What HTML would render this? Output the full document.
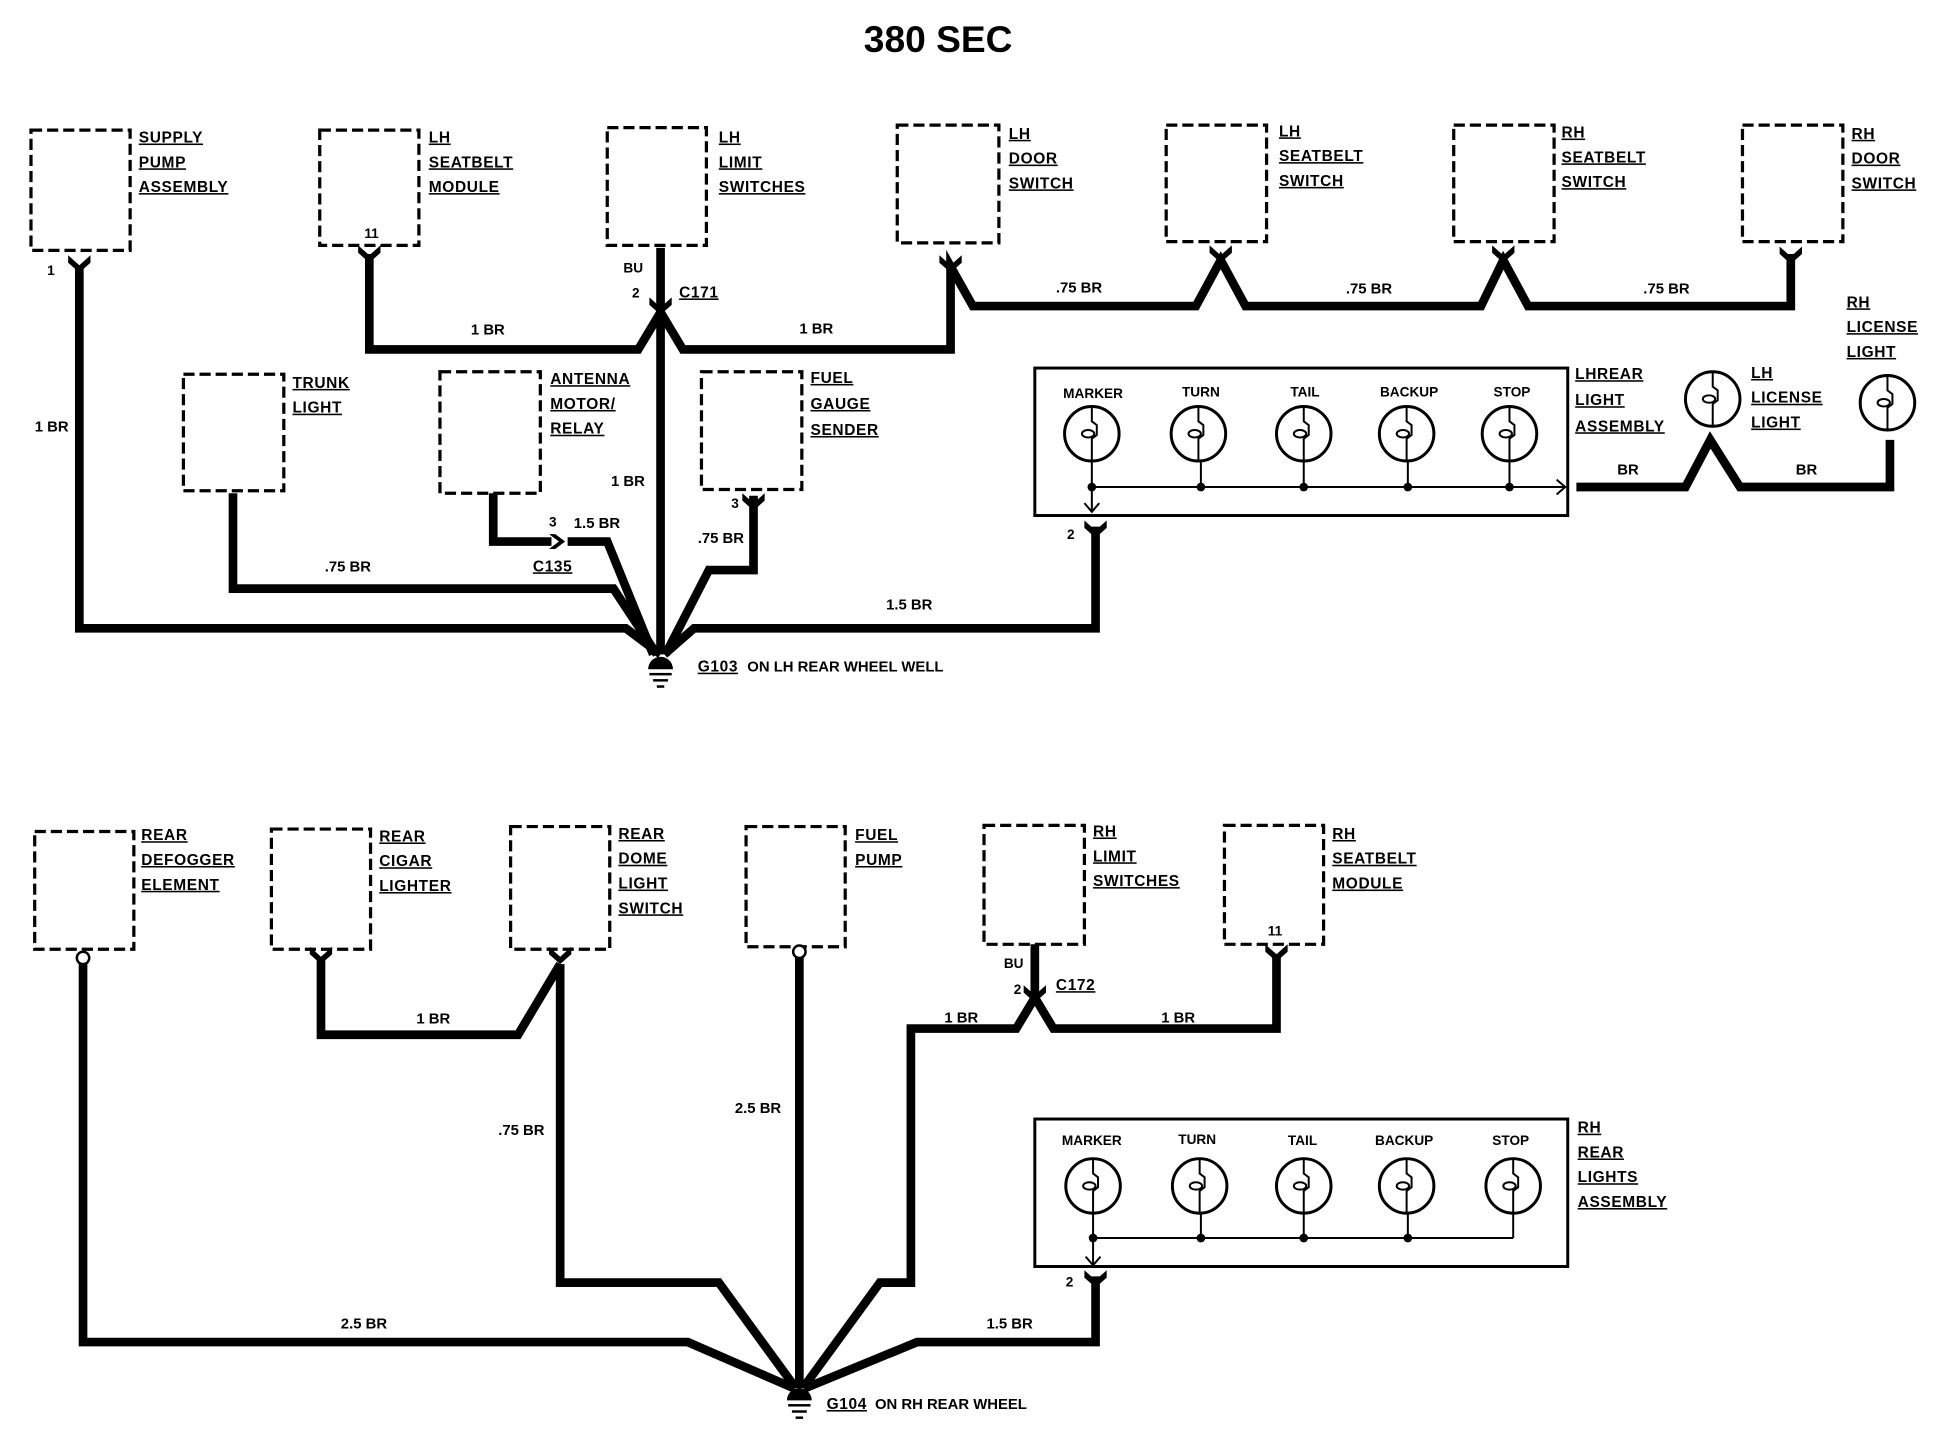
<!DOCTYPE html>
<html><head><meta charset="utf-8"><style>
html,body{margin:0;padding:0;background:#fff}
svg{display:block}
text{font-family:"Liberation Sans",sans-serif;font-weight:bold;fill:#000}
.l{font-size:12.5px;text-decoration:underline;letter-spacing:0.5px}
.w{font-size:12px}
.s{font-size:11px}
.box{fill:none;stroke:#000;stroke-width:2.6;stroke-dasharray:9 4}
.wire{fill:none;stroke:#000;stroke-width:7;stroke-linejoin:miter}
.thin{fill:none;stroke:#000;stroke-width:1.6}
.lamp{fill:none;stroke:#000;stroke-width:2.4}
</style></head><body>
<svg width="1942" height="1440" viewBox="0 0 1567 1162" preserveAspectRatio="none" xmlns="http://www.w3.org/2000/svg">
<text x="757" y="42" font-size="30" text-anchor="middle">380 SEC</text>

<rect class="box" x="25" y="105" width="80" height="97"/>
<text class="l" x="112" y="115">SUPPLY</text><text class="l" x="112" y="135">PUMP</text><text class="l" x="112" y="155">ASSEMBLY</text>
<rect class="box" x="258" y="105" width="80" height="93"/>
<text class="l" x="346" y="115">LH</text><text class="l" x="346" y="135">SEATBELT</text><text class="l" x="346" y="155">MODULE</text>
<text class="s" x="294" y="192">11</text>
<rect class="box" x="490" y="103" width="80" height="95"/>
<text class="l" x="580" y="115">LH</text><text class="l" x="580" y="135">LIMIT</text><text class="l" x="580" y="155">SWITCHES</text>
<rect class="box" x="724" y="101" width="82" height="95"/>
<text class="l" x="814" y="112">LH</text><text class="l" x="814" y="132">DOOR</text><text class="l" x="814" y="152">SWITCH</text>
<rect class="box" x="941" y="101" width="81" height="94"/>
<text class="l" x="1032" y="110">LH</text><text class="l" x="1032" y="130">SEATBELT</text><text class="l" x="1032" y="150">SWITCH</text>
<rect class="box" x="1173" y="101" width="81" height="94"/>
<text class="l" x="1260" y="111">RH</text><text class="l" x="1260" y="131">SEATBELT</text><text class="l" x="1260" y="151">SWITCH</text>
<rect class="box" x="1406" y="101" width="81" height="94"/>
<text class="l" x="1494" y="112">RH</text><text class="l" x="1494" y="132">DOOR</text><text class="l" x="1494" y="152">SWITCH</text>

<rect class="box" x="148" y="302" width="81" height="94"/>
<text class="l" x="236" y="313">TRUNK</text><text class="l" x="236" y="333">LIGHT</text>
<rect class="box" x="355" y="300" width="81" height="98"/>
<text class="l" x="444" y="310">ANTENNA</text><text class="l" x="444" y="330">MOTOR/</text><text class="l" x="444" y="350">RELAY</text>
<rect class="box" x="566" y="300" width="81" height="95"/>
<text class="l" x="654" y="309">FUEL</text><text class="l" x="654" y="330">GAUGE</text><text class="l" x="654" y="351">SENDER</text>

<path class="wire" d="M64 215 V507 H505 L533 528"/>
<path class="wire" d="M298 205 V282 H515 L533 252"/>
<path class="wire" d="M533 252 L551 282 H767 V215 L785 247 H965 L985 210 L1005 247 H1195 L1213 210 L1233 247 H1445 V205"/>
<path class="wire" d="M533 200 V528"/>
<path class="wire" d="M188 398 V475 H495 L530 528"/>
<path class="wire" d="M398 398 V437 H445"/>
<path class="wire" d="M458 437 H490 L527 528"/>
<path class="wire" d="M608 400 V460 H572 L537 528"/>
<path class="wire" d="M884 425 V507 H560 L536 528"/>
<g fill="#000">
<path d="M55 206 L64 214 L73 206 L73 212 L64 220 L55 212Z"/>
<path d="M289 198 L298 206 L307 198 L307 204 L298 212 L289 204Z"/>
<path d="M524 240 L533 248 L542 240 L542 246 L533 254 L524 246Z"/>
<path d="M758 206 L767 214 L776 206 L776 212 L767 220 L758 212Z"/>
<path d="M976 198 L985 206 L994 198 L994 204 L985 212 L976 204Z"/>
<path d="M1204 198 L1213 206 L1222 198 L1222 204 L1213 212 L1204 204Z"/>
<path d="M1436 199 L1445 207 L1454 199 L1454 205 L1445 213 L1436 205Z"/>
<path d="M599 398 L608 406 L617 398 L617 404 L608 412 L599 404Z"/>
<path d="M875 420 L884 428 L893 420 L893 426 L884 434 L875 426Z"/>
<path d="M443 431 L451 437 L443 443 L448 443 L456 437 L448 431Z"/>
</g>
<text class="s" x="38" y="222">1</text>
<text class="s" x="503" y="220">BU</text>
<text class="s" x="510" y="240">2</text>
<text class="l" x="548" y="240">C171</text>
<text class="w" x="28" y="348">1 BR</text>
<text class="w" x="380" y="270">1 BR</text>
<text class="w" x="645" y="269">1 BR</text>
<text class="w" x="852" y="236">.75 BR</text>
<text class="w" x="1086" y="237">.75 BR</text>
<text class="w" x="1326" y="237">.75 BR</text>
<text class="w" x="493" y="392">1 BR</text>
<text class="w" x="262" y="461">.75 BR</text>
<text class="s" x="443" y="425">3</text>
<text class="w" x="463" y="426">1.5 BR</text>
<text class="l" x="430" y="461">C135</text>
<text class="s" x="590" y="410">3</text>
<text class="w" x="563" y="438">.75 BR</text>
<text class="w" x="715" y="492">1.5 BR</text>
<text class="s" x="861" y="435">2</text>
<g fill="#000"><path d="M523 540 A10 10 0 0 1 543 540 Z"/><rect x="524" y="543" width="18" height="2"/><rect x="527" y="548" width="12" height="2"/><rect x="530" y="553" width="6" height="2"/></g>
<text class="l" x="563" y="542">G103</text><text class="w" x="603" y="542">ON LH REAR WHEEL WELL</text>

<rect x="835" y="297" width="430" height="119" fill="none" stroke="#000" stroke-width="2.4"/>
<g class="s" text-anchor="middle">
<text x="882" y="321">MARKER</text><text x="969" y="320">TURN</text><text x="1053" y="320">TAIL</text><text x="1137" y="320">BACKUP</text><text x="1220" y="320">STOP</text>
</g>
<path class="thin" d="M881 372 V412 M875 406 L881 413 L887 406 M881 393 H1262 M1256 387 L1263 393 L1256 399 M969 372 V393 M1052 372 V393 M1136 372 V393 M1218 372 V393"/>
<g fill="#000"><circle cx="881" cy="393" r="3.5"/><circle cx="969" cy="393" r="3.5"/><circle cx="1052" cy="393" r="3.5"/><circle cx="1136" cy="393" r="3.5"/><circle cx="1218" cy="393" r="3.5"/></g>
<g class="lamp">
<circle cx="881" cy="350" r="22"/><circle cx="967" cy="350" r="22"/><circle cx="1052" cy="350" r="22"/><circle cx="1135" cy="350" r="22"/><circle cx="1218" cy="350" r="22"/>
<circle cx="1382" cy="322" r="22"/><circle cx="1523" cy="325" r="22"/>
</g>
<g class="thin">
<path d="M881 328 V340 l4 3 v8 l-4 3 V372"/><ellipse cx="878" cy="350" rx="5" ry="3"/>
<path d="M967 328 V340 l4 3 v8 l-4 3 V372"/><ellipse cx="964" cy="350" rx="5" ry="3"/>
<path d="M1052 328 V340 l4 3 v8 l-4 3 V372"/><ellipse cx="1049" cy="350" rx="5" ry="3"/>
<path d="M1135 328 V340 l4 3 v8 l-4 3 V372"/><ellipse cx="1132" cy="350" rx="5" ry="3"/>
<path d="M1218 328 V340 l4 3 v8 l-4 3 V372"/><ellipse cx="1215" cy="350" rx="5" ry="3"/>
<path d="M1382 300 V312 l4 3 v8 l-4 3 V344"/><ellipse cx="1379" cy="322" rx="5" ry="3"/>
<path d="M1523 303 V315 l4 3 v8 l-4 3 V347"/><ellipse cx="1520" cy="325" rx="5" ry="3"/>
</g>
<path class="wire" d="M1272 393 H1360 L1380 355 L1404 393 H1525 V355"/>
<text class="l" x="1271" y="306">LHREAR</text><text class="l" x="1271" y="327">LIGHT</text><text class="l" x="1271" y="348">ASSEMBLY</text>
<text class="l" x="1413" y="305">LH</text><text class="l" x="1413" y="325">LICENSE</text><text class="l" x="1413" y="345">LIGHT</text>
<text class="l" x="1490" y="248">RH</text><text class="l" x="1490" y="268">LICENSE</text><text class="l" x="1490" y="288">LIGHT</text>
<text class="w" x="1305" y="383">BR</text><text class="w" x="1449" y="383">BR</text>

<rect class="box" x="28" y="671" width="80" height="95"/>
<text class="l" x="114" y="678">REAR</text><text class="l" x="114" y="698">DEFOGGER</text><text class="l" x="114" y="718">ELEMENT</text>
<rect class="box" x="219" y="669" width="80" height="97"/>
<text class="l" x="306" y="679">REAR</text><text class="l" x="306" y="699">CIGAR</text><text class="l" x="306" y="719">LIGHTER</text>
<rect class="box" x="412" y="667" width="80" height="99"/>
<text class="l" x="499" y="677">REAR</text><text class="l" x="499" y="697">DOME</text><text class="l" x="499" y="717">LIGHT</text><text class="l" x="499" y="737">SWITCH</text>
<rect class="box" x="602" y="667" width="80" height="97"/>
<text class="l" x="690" y="678">FUEL</text><text class="l" x="690" y="698">PUMP</text>
<rect class="box" x="794" y="666" width="81" height="96"/>
<text class="l" x="882" y="675">RH</text><text class="l" x="882" y="695">LIMIT</text><text class="l" x="882" y="715">SWITCHES</text>
<rect class="box" x="988" y="666" width="80" height="96"/>
<text class="l" x="1075" y="677">RH</text><text class="l" x="1075" y="697">SEATBELT</text><text class="l" x="1075" y="717">MODULE</text>
<text class="s" x="1023" y="755">11</text>

<path class="wire" d="M67 775 V1083 H555 L640 1120"/>
<path class="wire" d="M259 772 V835 H418 L452 778"/>
<path class="wire" d="M452 778 V1035 H580 L642 1120"/>
<path class="wire" d="M645 770 V1120"/>
<path class="wire" d="M835 762 V805 L820 830 H735 V1035 H710 L648 1120"/>
<path class="wire" d="M835 805 L850 830 H1030 V770"/>
<path class="wire" d="M884 1030 V1083 H740 L650 1120"/>
<g fill="#000">
<circle cx="67" cy="773" r="5" fill="#fff" stroke="#000" stroke-width="2"/>
<circle cx="645" cy="768" r="5" fill="#fff" stroke="#000" stroke-width="2"/>
<path d="M250 764 L259 772 L268 764 L268 770 L259 778 L250 770Z"/>
<path d="M443 764 L452 772 L461 764 L461 770 L452 778 L443 770Z"/>
<path d="M1021 762 L1030 770 L1039 762 L1039 768 L1030 776 L1021 768Z"/>
<path d="M826 795 L835 803 L844 795 L844 801 L835 809 L826 801Z"/>
<path d="M875 1025 L884 1033 L893 1025 L893 1031 L884 1039 L875 1031Z"/>
</g>
<text class="s" x="810" y="781">BU</text><text class="s" x="818" y="802">2</text>
<text class="l" x="852" y="799">C172</text>
<text class="w" x="336" y="826">1 BR</text>
<text class="w" x="762" y="825">1 BR</text>
<text class="w" x="937" y="825">1 BR</text>
<text class="w" x="402" y="916">.75 BR</text>
<text class="w" x="593" y="898">2.5 BR</text>
<text class="w" x="275" y="1072">2.5 BR</text>
<text class="w" x="796" y="1072">1.5 BR</text>
<text class="s" x="860" y="1038">2</text>
<g fill="#000"><path d="M635 1130 A10 10 0 0 1 655 1130 Z"/><rect x="636" y="1133" width="18" height="2"/><rect x="639" y="1138" width="12" height="2"/><rect x="642" y="1143" width="6" height="2"/></g>
<text class="l" x="667" y="1137">G104</text><text class="w" x="706" y="1137">ON RH REAR WHEEL</text>

<rect x="835" y="903" width="430" height="119" fill="none" stroke="#000" stroke-width="2.4"/>
<g class="s" text-anchor="middle">
<text x="881" y="924">MARKER</text><text x="966" y="923">TURN</text><text x="1051" y="924">TAIL</text><text x="1133" y="924">BACKUP</text><text x="1219" y="924">STOP</text>
</g>
<path class="thin" d="M882 978 V1020 M876 1014 L882 1021 L888 1014 M882 999 H1221 M969 978 V999 M1052 978 V999 M1136 978 V999 M1221 978 V999"/>
<g fill="#000"><circle cx="882" cy="999" r="3.5"/><circle cx="969" cy="999" r="3.5"/><circle cx="1052" cy="999" r="3.5"/><circle cx="1136" cy="999" r="3.5"/></g>
<g class="lamp">
<circle cx="882" cy="957" r="22"/><circle cx="968" cy="957" r="22"/><circle cx="1052" cy="957" r="22"/><circle cx="1135" cy="957" r="22"/><circle cx="1221" cy="957" r="22"/>
</g>
<g class="thin">
<path d="M882 935 V947 l4 3 v8 l-4 3 V979"/><ellipse cx="879" cy="957" rx="5" ry="3"/>
<path d="M968 935 V947 l4 3 v8 l-4 3 V979"/><ellipse cx="965" cy="957" rx="5" ry="3"/>
<path d="M1052 935 V947 l4 3 v8 l-4 3 V979"/><ellipse cx="1049" cy="957" rx="5" ry="3"/>
<path d="M1135 935 V947 l4 3 v8 l-4 3 V979"/><ellipse cx="1132" cy="957" rx="5" ry="3"/>
<path d="M1221 935 V947 l4 3 v8 l-4 3 V979"/><ellipse cx="1218" cy="957" rx="5" ry="3"/>
</g>
<text class="l" x="1273" y="914">RH</text><text class="l" x="1273" y="934">REAR</text><text class="l" x="1273" y="954">LIGHTS</text><text class="l" x="1273" y="974">ASSEMBLY</text>
</svg>
</body></html>
